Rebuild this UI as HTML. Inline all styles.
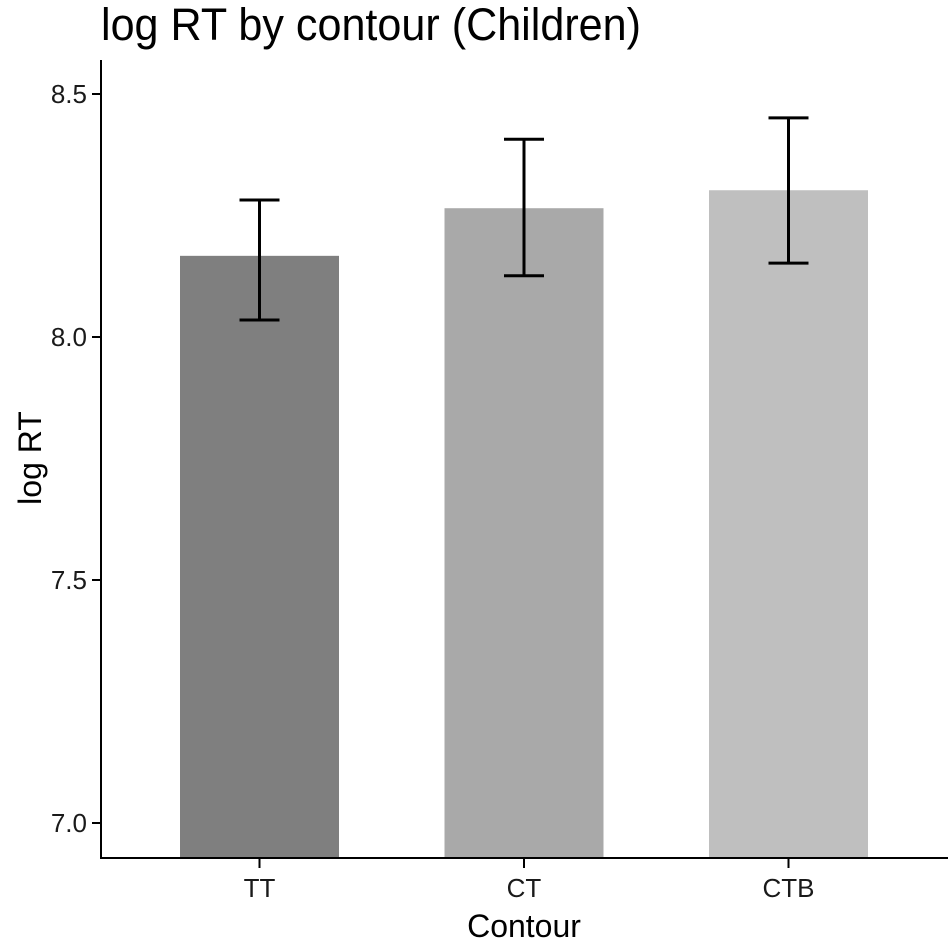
<!DOCTYPE html>
<html><head><meta charset="utf-8"><style>
body{margin:0;background:#fff;}
svg text{font-family:"Liberation Sans",Arial,sans-serif;}
</style></head><body>
<svg id="chart" width="950" height="943" viewBox="0 0 950 943" xmlns="http://www.w3.org/2000/svg">
<text x="101" y="40" font-size="45" textLength="540" lengthAdjust="spacingAndGlyphs" fill="#000">log RT by contour (Children)</text>
<text transform="translate(41,458) rotate(-90)" text-anchor="middle" font-size="32" fill="#000">log RT</text>
<text x="524" y="937" text-anchor="middle" font-size="32" fill="#000">Contour</text>
<g id="bars"></g><g id="errs"></g><g id="axes"></g>
</svg>
<script>
const categories = ["TT","CT","CTB"];
const means = [8.167, 8.265, 8.302];
const lower = [8.035, 8.126, 8.152];
const upper = [8.282, 8.407, 8.451];
const colors = ["#7f7f7f","#a9a9a9","#bfbfbf"];
const yTicks = [7.0, 7.5, 8.0, 8.5];
const yTickLabels = ["7.0","7.5","8.0","8.5"];

const NS="http://www.w3.org/2000/svg";
const plotL=101, plotR=948, plotB=858, plotT=60;
function y(v){return 337-(v-8)*486;}
const step=264.5, x0=259.5, barW=159;
function x(i){return x0+i*step;}
function mk(tag,attrs,parent){const e=document.createElementNS(NS,tag);for(const k in attrs)e.setAttribute(k,attrs[k]);parent.appendChild(e);return e;}
const gb=document.getElementById('bars'), ge=document.getElementById('errs'), ga=document.getElementById('axes');
categories.forEach((c,i)=>{
  const r=mk('rect',{x:x(i)-barW/2,y:y(means[i]),width:barW,height:plotB-y(means[i]),fill:colors[i]},gb);
  
  
  const g=mk('g',{stroke:'#000','stroke-width':3,fill:'none'},ge);
  
  
  mk('line',{x1:x(i),x2:x(i),y1:y(upper[i]),y2:y(lower[i])},g);
  mk('line',{x1:x(i)-20,x2:x(i)+20,y1:y(upper[i]),y2:y(upper[i])},g);
  mk('line',{x1:x(i)-20,x2:x(i)+20,y1:y(lower[i]),y2:y(lower[i])},g);
  mk('line',{x1:x(i),x2:x(i),y1:plotB,y2:plotB+10,stroke:'#000','stroke-width':2},ga);
  const t=mk('text',{x:x(i),y:plotB+39,'text-anchor':'middle','font-size':26,fill:'#1a1a1a'},ga);
  t.textContent=c;
  
  
});
yTicks.forEach((v,i)=>{
  mk('line',{x1:plotL-9,x2:plotL,y1:y(v),y2:y(v),stroke:'#000','stroke-width':2},ga);
  const t=mk('text',{x:plotL-14,y:y(v)+9,'text-anchor':'end','font-size':26,fill:'#1a1a1a'},ga);
  t.textContent=yTickLabels[i];
  
  
});
const ya=mk('line',{x1:plotL,x2:plotL,y1:plotT,y2:plotB+1,stroke:'#000','stroke-width':2},ga);


const xa=mk('line',{x1:plotL-1,x2:plotR,y1:plotB,y2:plotB,stroke:'#000','stroke-width':2},ga);


</script>
</body></html>
